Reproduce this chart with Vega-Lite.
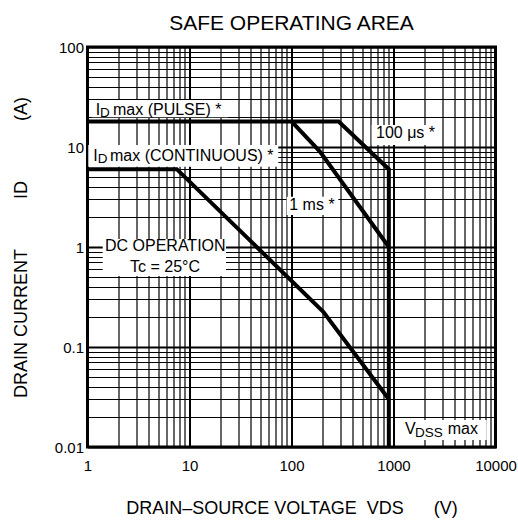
{
  "$schema": "https://vega.github.io/schema/vega-lite/v6.json",
  "width": 408,
  "height": 400,
  "autosize": {"type": "none"},
  "padding": {"left": 87.5, "top": 47, "right": 22.5, "bottom": 73},
  "title": {"text": "SAFE OPERATING AREA", "fontSize": 21, "fontWeight": "normal", "font": "Liberation Sans", "color": "black", "baseline": "alphabetic", "offset": -11},
  "config": {"view": {"stroke": "black", "strokeWidth": 3}, "font": "Liberation Sans"},
  "encoding": {
    "x": {
      "field": "x", "type": "quantitative",
      "scale": {"type": "log", "domain": [1, 10000], "nice": false},
      "axis": {
        "title": "DRAIN–SOURCE VOLTAGE\u00a0\u00a0VDS\u00a0\u00a0\u00a0\u00a0\u00a0\u00a0(V)",
        "values": [1,2,3,4,5,6,7,8,9,10,20,30,40,50,60,70,80,90,100,200,300,400,500,600,700,800,900,1000,2000,3000,4000,5000,6000,7000,8000,9000,10000],
        "format": "~g",
        "labelExpr": "indexof([1,10,100,1000,10000], datum.value) >= 0 ? datum.label : ''",
        "labelFlush": false, "labelOverlap": false, "labelBound": false,
        "ticks": false, "domain": false,
        "grid": true, "gridColor": "black", "gridOpacity": 1,
        "gridWidth": {"condition": {"test": "indexof([1,10,100,1000,10000], datum.value) >= 0", "value": 2}, "value": 1.2},
        "labelFontSize": 15, "labelColor": "black", "labelPadding": 11, "labelFont": "Liberation Sans",
        "titleFontSize": 18, "titleFontWeight": "normal", "titleColor": "black", "titlePadding": 26, "titleFont": "Liberation Sans"
      }
    },
    "y": {
      "field": "y", "type": "quantitative",
      "scale": {"type": "log", "domain": [0.01, 100], "nice": false},
      "axis": {
        "title": "DRAIN CURRENT\u00a0\u00a0\u00a0\u00a0\u00a0\u00a0\u00a0\u00a0\u00a0\u00a0ID\u00a0\u00a0\u00a0\u00a0\u00a0\u00a0\u00a0\u00a0\u00a0\u00a0\u00a0\u00a0(A)\u00a0\u00a0",
        "values": [0.01,0.02,0.03,0.04,0.05,0.06,0.07,0.08,0.09,0.1,0.2,0.3,0.4,0.5,0.6,0.7,0.8,0.9,1,2,3,4,5,6,7,8,9,10,20,30,40,50,60,70,80,90,100],
        "format": "~g",
        "labelExpr": "indexof([0.01,0.1,1,10,100], datum.value) >= 0 ? datum.label : ''",
        "labelFlush": false, "labelOverlap": false, "labelBound": false,
        "ticks": false, "domain": false,
        "grid": true, "gridColor": "black", "gridOpacity": 1,
        "gridWidth": {"condition": {"test": "indexof([0.01,0.1,1,10,100], datum.value) >= 0", "value": 2}, "value": 1.2},
        "labelFontSize": 15, "labelColor": "black", "labelPadding": 4, "labelFont": "Liberation Sans",
        "titleFontSize": 18, "titleFontWeight": "normal", "titleColor": "black", "titlePadding": 24, "titleFont": "Liberation Sans"
      }
    }
  },
  "layer": [
    {
      "data": {"values": [
        {"x": 1.099, "x2": 24.0, "y": 29.5, "y2": 19.8},
        {"x": 611, "x2": 2653, "y": 16.6, "y2": 10.47},
        {"x": 1.018, "x2": 74.2, "y": 10.47, "y2": 6.35},
        {"x": 89.7, "x2": 287.6, "y": 3.18, "y2": 2.09},
        {"x": 1.41, "x2": 22.8, "y": 1.202, "y2": 0.513},
        {"x": 1247, "x2": 8200, "y": 0.01862, "y2": 0.01175}
      ]},
      "mark": {"type": "rect", "fill": "white", "strokeWidth": 0},
      "encoding": {"x2": {"field": "x2"}, "y2": {"field": "y2"}}
    },
    {
      "data": {"values": [
        {"series": "pulse", "order": 1, "x": 1, "y": 18},
        {"series": "pulse", "order": 2, "x": 290, "y": 18},
        {"series": "pulse", "order": 3, "x": 900, "y": 6},
        {"series": "pulse", "order": 4, "x": 900, "y": 0.01},
        {"series": "1ms", "order": 1, "x": 100, "y": 18},
        {"series": "1ms", "order": 2, "x": 190, "y": 9},
        {"series": "1ms", "order": 3, "x": 900, "y": 1.0},
        {"series": "dc", "order": 1, "x": 1, "y": 6},
        {"series": "dc", "order": 2, "x": 7.5, "y": 6},
        {"series": "dc", "order": 3, "x": 205, "y": 0.225},
        {"series": "dc", "order": 4, "x": 900, "y": 0.03}
      ]},
      "mark": {"type": "line", "color": "black", "strokeWidth": 4, "clip": true},
      "encoding": {"detail": {"field": "series"}, "order": {"field": "order", "type": "quantitative"}}
    },
    {
      "data": {"values": [
        {"x": 1.203, "y": 23.44, "text": "I"},
        {"x": 1.778, "y": 23.44, "text": "max (PULSE) *"},
        {"x": 1.14, "y": 8.17, "text": "I"},
        {"x": 1.662, "y": 8.17, "text": "max (CONTINUOUS) *"},
        {"x": 673.6, "y": 13.7, "text": "100 μs *"},
        {"x": 95.1, "y": 2.63, "text": "1 ms *"},
        {"x": 1.484, "y": 1.028, "text": "DC OPERATION"},
        {"x": 2.61, "y": 0.624, "text": "Tc = 25°C"},
        {"x": 1297, "y": 0.01507, "text": "V"},
        {"x": 3400, "y": 0.01507, "text": "max"}
      ]},
      "mark": {"type": "text", "align": "left", "baseline": "middle", "fontSize": 16, "color": "black", "font": "Liberation Sans"},
      "encoding": {"text": {"field": "text"}}
    },
    {
      "data": {"values": [
        {"x": 1.326, "y": 22.13, "text": "D"},
        {"x": 1.259, "y": 7.64, "text": "D"},
        {"x": 1625, "y": 0.0138, "text": "DSS"}
      ]},
      "mark": {"type": "text", "align": "left", "baseline": "middle", "fontSize": 13.5, "color": "black", "font": "Liberation Sans"},
      "encoding": {"text": {"field": "text"}}
    }
  ]
}
